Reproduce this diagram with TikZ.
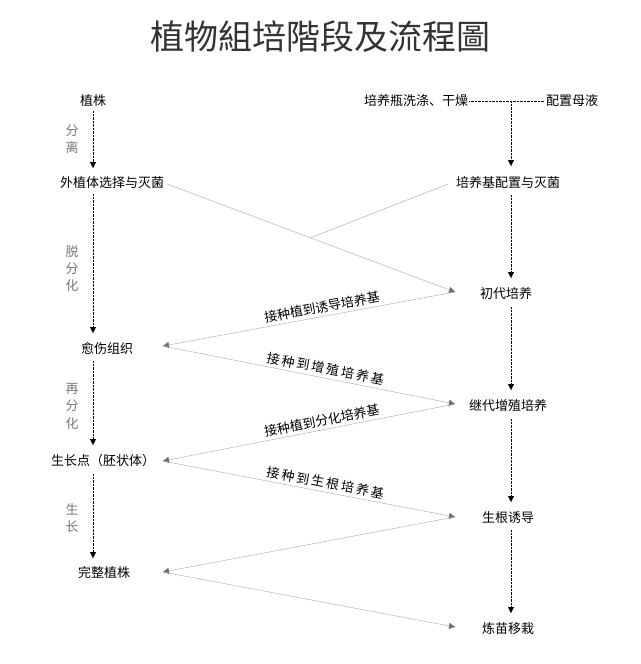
\documentclass[tikz,border=0pt]{standalone}
\usepackage{fontspec}
\setmainfont{Noto Sans CJK SC}
\newfontfamily\tcfont{Noto Sans CJK TC}
\usetikzlibrary{arrows.meta}
\definecolor{linegray}{RGB}{165,165,165}
\definecolor{tipgray}{RGB}{110,110,110}
\definecolor{sidegray}{RGB}{120,120,120}
\tikzset{
 stage/.style={font=\fontsize{13}{15}\selectfont, inner sep=1},
 side/.style={font=\fontsize{13}{15}\selectfont, text=sidegray, inner sep=0},
 flow/.style={black, densely dotted, -{Triangle[width=6pt,length=6pt]}},
 cross/.style={linegray, -{Triangle[width=6pt,length=6pt,fill=tipgray,color=tipgray]}},
 note/.style={font=\fontsize{13}{15}\selectfont, text=black, sloped, above, inner sep=3},
}
\begin{document}
\begin{tikzpicture}[x=1pt,y=-1pt]
\useasboundingbox (0,0) rectangle (640,664);
\node[font=\tcfont\fontsize{34}{38}\selectfont, text=black!80] (title) at (320,37) {植物組培階段及流程圖};
% left column
\node[stage] (plant) at (93,101) {植株};
\node[stage] (explant) at (112,183) {外植体选择与灭菌};
\node[stage] (callus) at (107,349) {愈伤组织};
\node[stage] (bud) at (103,461) {生长点（胚状体）};
\node[stage] (whole) at (104,573) {完整植株};
% right column
\node[stage] (wash) at (416,101) {培养瓶洗涤、干燥};
\node[stage] (stock) at (572,101) {配置母液};
\node[stage] (medium) at (508,183) {培养基配置与灭菌};
\node[stage] (primary) at (506,294) {初代培养};
\node[stage] (subcult) at (508,406) {继代增殖培养};
\node[stage] (rooting) at (508,518) {生根诱导};
\node[stage] (harden) at (508,629) {炼苗移栽};
% side labels
\node[side] at (72,131) {分};
\node[side] at (72,148) {离};
\node[side] at (72,252) {脱};
\node[side] at (72,269) {分};
\node[side] at (72,286) {化};
\node[side] at (72,389) {再};
\node[side] at (72,406) {分};
\node[side] at (72,424) {化};
\node[side] at (72,509) {生};
\node[side] at (72,527) {长};
% vertical flows
\draw[flow] (93,111) -- (93,168);
\draw[flow] (93,194) -- (93,333);
\draw[flow] (93,361) -- (93,445);
\draw[flow] (93,474) -- (93,558);
\coordinate (join) at (511,101);
\draw[black, densely dotted] (wash.east) -- (stock.west);
\draw[flow] (join) -- (511,166);
\draw[flow] (511,195) -- (511,278);
\draw[flow] (511,307) -- (511,390);
\draw[flow] (511,419) -- (511,502);
\draw[flow] (511,530) -- (511,613);
% crossing lines
\coordinate (exR) at (167,184);
\coordinate (meL) at (448,184);
\coordinate (meet) at (310,238);
\coordinate (prL) at (455,292);
\coordinate (caR) at (163,346);
\coordinate (suL) at (455,404);
\coordinate (buR) at (163,461);
\coordinate (roL) at (455,517);
\coordinate (whR) at (163,572);
\coordinate (haL) at (455,627);
\draw[cross] (exR) -- (prL);
\draw[linegray] (meL) -- (meet);
\draw[cross] (prL) -- node[note, pos=0.45] {接种植到诱导培养基} (caR);
\draw[cross] (caR) -- node[note, pos=0.55] {接\,种\,到\,增\,殖\,培\,养\,基} (suL);
\draw[cross] (suL) -- node[note, pos=0.45] {接种植到分化培养基} (buR);
\draw[cross] (buR) -- node[note, pos=0.55] {接\,种\,到\,生\,根\,培\,养\,基} (roL);
\draw[cross] (roL) -- (whR);
\draw[cross] (whR) -- (haL);
\end{tikzpicture}
\end{document}
